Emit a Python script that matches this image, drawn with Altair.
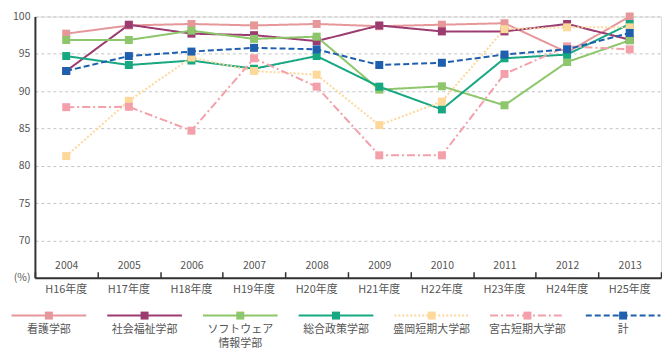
import altair as alt
import pandas as pd

# ---- data ----
series = ["看護学部", "社会福祉学部", "ソフトウェア情報学部", "総合政策学部",
          "盛岡短期大学部", "宮古短期大学部", "計"]
legend_labels = ["看護学部", "社会福祉学部", "ソフトウェア\n情報学部", "総合政策学部",
                 "盛岡短期大学部", "宮古短期大学部", "計"]
years = ["2004", "2005", "2006", "2007", "2008", "2009", "2010", "2011", "2012", "2013"]
fiscal = ["H16年度", "H17年度", "H18年度", "H19年度", "H20年度",
          "H21年度", "H22年度", "H23年度", "H24年度", "H25年度"]

kango = [97.7, 98.8, 99.0, 98.8, 99.0, 98.7, 98.9, 99.1, 95.2, 100.0]
fukushi = [92.7, 98.9, 97.7, 97.5, 96.7, 98.8, 98.0, 98.0, 99.0, 96.9]
software = [96.85, 96.85, 98.1, 97.0, 97.3, 90.2, 90.65, 88.1, 93.9, 96.8]
sogo = [94.7, 93.5, 94.1, 93.0, 94.7, 90.6, 87.55, 94.4, 94.9, 99.0]
morioka = [81.3, 88.7, 94.5, 92.7, 92.2, 85.45, 88.6, 98.3, 98.55, 98.55]
miyako = [87.85, 87.9, 84.7, 94.4, 90.6, 81.4, 81.4, 92.3, 96.0, 95.6]
total = [92.7, 94.7, 95.3, 95.8, 95.6, 93.5, 93.8, 94.9, 95.6, 97.8]

y_ticks = [65, 70, 75, 80, 85, 90, 95, 100]

# ---- styles ----
colors = ["#E6979A", "#9B3B70", "#8DC66B", "#17A882", "#FDD89B", "#F3A0AA", "#1E5FAE"]
dashes = [[1, 0], [1, 0], [1, 0], [1, 0], [2, 2], [8, 3, 2, 3], [6, 3]]
widths = [2, 2, 2, 2, 2, 1.6, 3.5]
sizes = [64, 64, 64, 64, 64, 64, 100]
FONT = "Noto Sans CJK JP"
W, H = 628, 262

all_vals = [kango, fukushi, software, sogo, morioka, miyako, total]
rows = []
for s, vals in zip(series, all_vals):
    for fy, v in zip(fiscal, vals):
        rows.append({"series": s, "fy": fy, "value": v})
df = pd.DataFrame(rows)

leg = pd.DataFrame({
    "series": series,
    "label": legend_labels,
    "idx": list(range(len(series))),
})
leg["lo"] = leg["idx"] - 0.39
leg["hi"] = leg["idx"] + 0.39

color_scale = alt.Scale(domain=series, range=colors)
dash_scale = alt.Scale(domain=series, range=dashes)
width_scale = alt.Scale(domain=series, range=widths)
size_scale = alt.Scale(domain=series, range=sizes)

xscale = alt.Scale(type="band", domain=fiscal, paddingInner=0, paddingOuter=0)
yscale = alt.Scale(domain=[65, 100], nice=False, zero=False)

year_expr = ("[" + ",".join("'%s'" % y for y in years) + "][indexof(["
             + ",".join("'%s'" % f for f in fiscal) + "], datum.value)]")

top_axis = alt.Axis(orient="top", offset=-H, title=None, labelExpr=year_expr,
                    tickBand="extent", ticks=True, tickSize=6, tickColor="#333",
                    tickWidth=1.5, domain=True, domainColor="#333", domainWidth=2,
                    labelPadding=1, labelFontSize=10.5, labelColor="#555",
                    labelAngle=0, grid=False)
bottom_axis = alt.Axis(orient="bottom", title=None, ticks=False, domain=False,
                       labelPadding=6, labelFontSize=11, labelColor="#555",
                       labelAngle=0, grid=False)
y_axis = alt.Axis(values=y_ticks, title=None, labelOverlap=False,
                  labelExpr="datum.value == 65 ? '(%)' : datum.label",
                  grid=True, gridDash=[3, 3], gridColor="#c4c4c4", gridWidth=1,
                  domain=True, domainColor="#333", domainWidth=2, ticks=False,
                  labelPadding=5, labelFontSize=10.5, labelColor="#555")

base = alt.Chart(df)
lines = base.mark_line().encode(
    x=alt.X("fy:O", scale=xscale, axis=top_axis, bandPosition=0.5),
    y=alt.Y("value:Q", scale=yscale, axis=y_axis),
    color=alt.Color("series:N", scale=color_scale, legend=None),
    strokeDash=alt.StrokeDash("series:N", scale=dash_scale, legend=None),
    strokeWidth=alt.StrokeWidth("series:N", scale=width_scale, legend=None),
    detail="series:N",
)
points = base.mark_square(opacity=1, filled=True).encode(
    x=alt.X("fy:O", scale=xscale, axis=bottom_axis, bandPosition=0.5),
    y=alt.Y("value:Q", scale=yscale, axis=y_axis),
    color=alt.Color("series:N", scale=color_scale, legend=None),
    size=alt.Size("series:N", scale=size_scale, legend=None),
)
main = alt.layer(lines, points).resolve_axis(x="independent")

lscale = alt.Scale(domain=[-14 / 96, -14 / 96 + W / 96], nice=False, zero=False)
lbase = alt.Chart(leg)
leg_rules = lbase.mark_rule().encode(
    x=alt.X("lo:Q", scale=lscale, axis=None),
    x2="hi:Q",
    y=alt.value(300),
    color=alt.Color("series:N", scale=color_scale, legend=None),
    strokeDash=alt.StrokeDash("series:N", scale=dash_scale, legend=None),
    strokeWidth=alt.StrokeWidth("series:N", scale=width_scale, legend=None),
)
leg_sq = lbase.mark_square(opacity=1, filled=True).encode(
    x=alt.X("idx:Q", scale=lscale, axis=None),
    y=alt.value(300),
    color=alt.Color("series:N", scale=color_scale, legend=None),
    size=alt.Size("series:N", scale=size_scale, legend=None),
)
leg_txt = lbase.mark_text(baseline="top", align="center", lineBreak="\n",
                          fontSize=11, color="#555", font=FONT, lineHeight=15).encode(
    x=alt.X("idx:Q", scale=lscale, axis=None),
    y=alt.value(308),
    text="label:N",
)
legend = alt.layer(leg_rules, leg_sq, leg_txt)

chart = alt.layer(main, legend).resolve_scale(x="independent").properties(
    width=W, height=H, padding={"top": 3, "left": 2, "right": 0, "bottom": 0}
).configure_view(strokeWidth=0).configure(font=FONT).configure_axis(
    labelFont=FONT
)

chart.save("out.html", embed_options={"renderer": "svg", "actions": False})
